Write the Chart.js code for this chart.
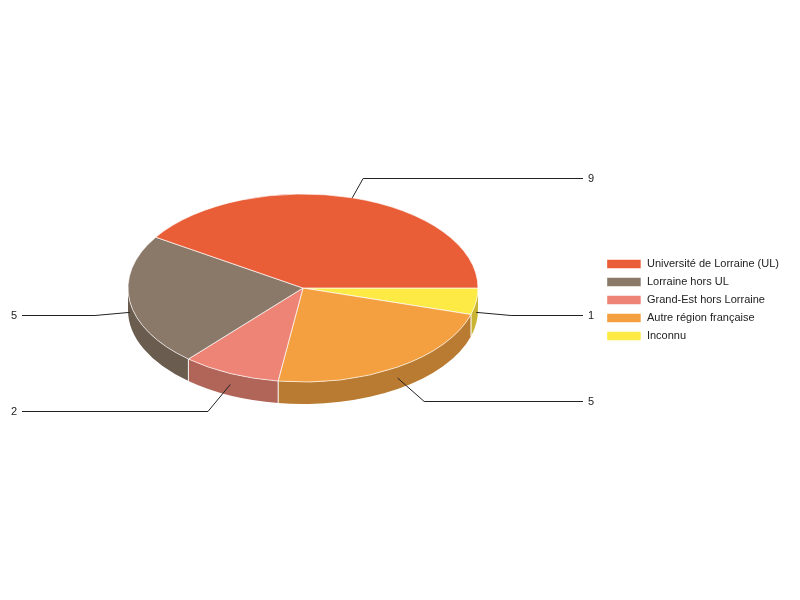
<!DOCTYPE html>
<html>
<head>
<meta charset="utf-8">
<script src="https://cdn.jsdelivr.net/npm/chart.js@4.4.0/dist/chart.umd.min.js"></script>
<style>
body{margin:0;background:#fff}
#wrap{width:800px;height:600px}
</style>
</head>
<body>
<div id="wrap"><canvas id="pie3d"></canvas></div>
<script>
var categories = ['Université de Lorraine (UL)', 'Lorraine hors UL', 'Grand-Est hors Lorraine', 'Autre région française', 'Inconnu']
var counts = [9, 5, 2, 5, 1]
var topColors = ['#e95d37', '#8a7869', '#ee8476', '#f4a040', '#feea44']
var sideColors = ['#b34729', '#6b5c50', '#b06558', '#b87b31', '#c9b533']

// chart.js goes clockwise, the picture goes the other way -> feed it reversed
var dsLabels = categories.slice().reverse()
var dsData = counts.slice().reverse()
var dsTop = topColors.slice().reverse()
var dsSide = sideColors.slice().reverse()

var CX = 303, CY = 288, RX = 175, RY = 94, DEPTH = 22

function norm(a){
    a = a % (2*Math.PI)
    if(a < 0) a += 2*Math.PI
    return a
}

var pie3d = {
    id: 'pie3d',
    beforeDatasetsDraw: function(chart){
        var ctx = chart.ctx
        var arcs = chart.getDatasetMeta(0).data
        // walls: only the front half (0..PI) can be seen
        arcs.forEach(function(arc, i){
            var a = norm(arc.startAngle)
            var b = a + (arc.endAngle - arc.startAngle)
            var s = Math.max(a, 0), e = Math.min(b, Math.PI)
            if(e <= s) return
            ctx.beginPath()
            ctx.ellipse(CX, CY, RX, RY, 0, s, e, false)
            ctx.lineTo(CX + RX*Math.cos(e), CY + DEPTH + RY*Math.sin(e))
            ctx.ellipse(CX, CY + DEPTH, RX, RY, 0, e, s, true)
            ctx.closePath()
            ctx.fillStyle = dsSide[i]
            ctx.fill()
            ctx.strokeStyle = 'rgba(255,255,255,0.8)'
            ctx.lineWidth = 1
            ;[s, e].forEach(function(t){
                if(t > 0.001 && t < Math.PI - 0.001){
                    ctx.beginPath()
                    ctx.moveTo(CX + RX*Math.cos(t), CY + RY*Math.sin(t))
                    ctx.lineTo(CX + RX*Math.cos(t), CY + DEPTH + RY*Math.sin(t))
                    ctx.stroke()
                }
            })
        })
        // squash the flat pie into the top face
        var r = arcs[0].outerRadius
        ctx.save()
        ctx.translate(CX, CY)
        ctx.scale(RX/r, RY/r)
        ctx.translate(-arcs[0].x, -arcs[0].y)
    },
    afterDatasetsDraw: function(chart){
        var ctx = chart.ctx
        ctx.restore()
        var arcs = chart.getDatasetMeta(0).data
        var values = chart.data.datasets[0].data
        ctx.save()
        ctx.strokeStyle = '#222'
        ctx.lineWidth = 1
        ctx.fillStyle = '#222'
        ctx.font = '11px "Liberation Sans", Arial, sans-serif'
        ctx.textBaseline = 'middle'
        arcs.forEach(function(arc, i){
            var m = norm((arc.startAngle + arc.endAngle)/2)
            var c = Math.cos(m), s = Math.sin(m)
            var ax = CX + RX*c, ay = CY + RY*s + (s > 0 ? DEPTH/2 : 0)
            var dx = c, dy = 0.55*s, len = Math.sqrt(dx*dx + dy*dy)
            var L = s < 0 ? 23 : 35
            var ex = ax + L*dx/len, ey = Math.round(ay + L*dy/len) + 0.5
            var right = c >= 0
            ctx.beginPath()
            ctx.moveTo(ax, ay)
            ctx.lineTo(ex, ey)
            ctx.lineTo(right ? 583 : 22, ey)
            ctx.stroke()
            ctx.textAlign = right ? 'left' : 'right'
            ctx.fillText(values[i], right ? 588 : 17, ey)
        })
        ctx.restore()
    }
}

new Chart('pie3d', {
    type: 'pie',
    data: {
        labels: dsLabels,
        datasets: [{
            data: dsData,
            backgroundColor: dsTop,
            borderColor: '#ffffff',
            borderWidth: 1.5
        }]
    },
    options: {
        responsive: true,
        maintainAspectRatio: false,
        animation: false,
        rotation: 90,
        layout: {padding: {right: 11}},
        plugins: {
            tooltip: {enabled: false},
            legend: {
                position: 'right',
                reverse: true,
                labels: {
                    boxWidth: 35,
                    boxHeight: 10,
                    padding: 7,
                    color: '#222',
                    font: {size: 11, family: '"Liberation Sans", Arial, sans-serif'}
                }
            }
        }
    },
    plugins: [pie3d]
})
</script>
</body>
</html>
